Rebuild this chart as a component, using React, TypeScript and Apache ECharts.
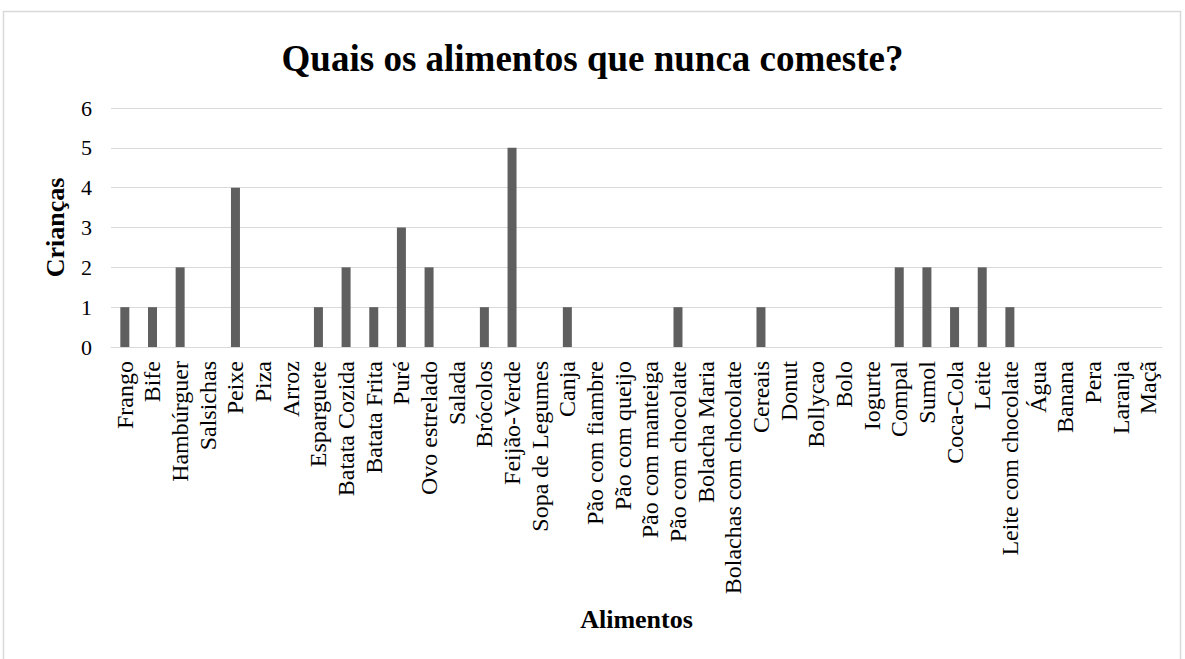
import React, { useEffect, useRef } from "react";
import * as echarts from "echarts";

const categories = [
  "Frango", "Bife", "Hambúrguer", "Salsichas", "Peixe", "Piza", "Arroz", "Esparguete",
  "Batata Cozida", "Batata Frita", "Puré", "Ovo estrelado", "Salada", "Brócolos",
  "Feijão-Verde", "Sopa de Legumes", "Canja", "Pão com fiambre", "Pão com queijo",
  "Pão com manteiga", "Pão com chocolate", "Bolacha Maria", "Bolachas com chocolate",
  "Cereais", "Donut", "Bollycao", "Bolo", "Iogurte", "Compal", "Sumol", "Coca-Cola",
  "Leite", "Leite com chocolate", "Água", "Banana", "Pera", "Laranja", "Maçã",
];
const values = [
  1, 1, 2, 0, 4, 0, 0, 1, 2, 1, 3, 2, 0, 1, 5, 0, 1, 0, 0, 0, 1, 0, 0, 1, 0, 0, 0, 0,
  2, 2, 1, 2, 1, 0, 0, 0, 0, 0,
];
const title = "Quais os alimentos que nunca comeste?";
const xName = "Alimentos";
const yName = "Crianças";

export default function App() {
  const ref = useRef<HTMLDivElement>(null);
  useEffect(() => {
    const chart = echarts.init(ref.current!, null, { renderer: "svg" });
    const font = "'Liberation Serif', 'Times New Roman', serif";
    chart.setOption({
      animation: false,
      textStyle: { fontFamily: font },
      title: {
        text: title,
        left: "center",
        top: 35,
        textStyle: { fontFamily: font, fontSize: 37, fontWeight: "bold", color: "#000" },
      },
      graphic: [
        {
          type: "rect",
          shape: { x: 3.5, y: 11.5, width: 1177, height: 660 },
          style: { fill: "none", stroke: "#d9d9d9", lineWidth: 1.5 },
        },
      ],
      grid: { left: 111, right: 23, top: 108, bottom: 312, containLabel: false },
      xAxis: {
        type: "category",
        data: categories,
        name: xName,
        nameLocation: "middle",
        nameGap: 259,
        nameTextStyle: { fontFamily: font, fontSize: 26, fontWeight: "bold", color: "#000" },
        axisLine: { lineStyle: { color: "#d9d9d9", width: 1 } },
        axisTick: { show: false },
        axisLabel: {
          rotate: 90,
          interval: 0,
          margin: 14,
          fontFamily: font,
          fontSize: 24,
          color: "#000",
        },
      },
      yAxis: {
        type: "value",
        min: 0,
        max: 6,
        interval: 1,
        name: yName,
        nameLocation: "middle",
        nameGap: 43,
        nameTextStyle: { fontFamily: font, fontSize: 26, fontWeight: "bold", color: "#000" },
        axisLine: { show: false },
        axisTick: { show: false },
        splitLine: { lineStyle: { color: "#d9d9d9", width: 1 } },
        axisLabel: { fontFamily: font, fontSize: 22, color: "#000", margin: 19 },
      },
      series: [
        {
          type: "bar",
          data: values,
          barWidth: 9,
          itemStyle: { color: "#5f5f5f" },
        },
      ],
    });
    return () => chart.dispose();
  }, []);
  return (
    <div
      ref={ref}
      style={{ position: "absolute", left: 0, top: 0, width: 1185, height: 659 }}
    />
  );
}
